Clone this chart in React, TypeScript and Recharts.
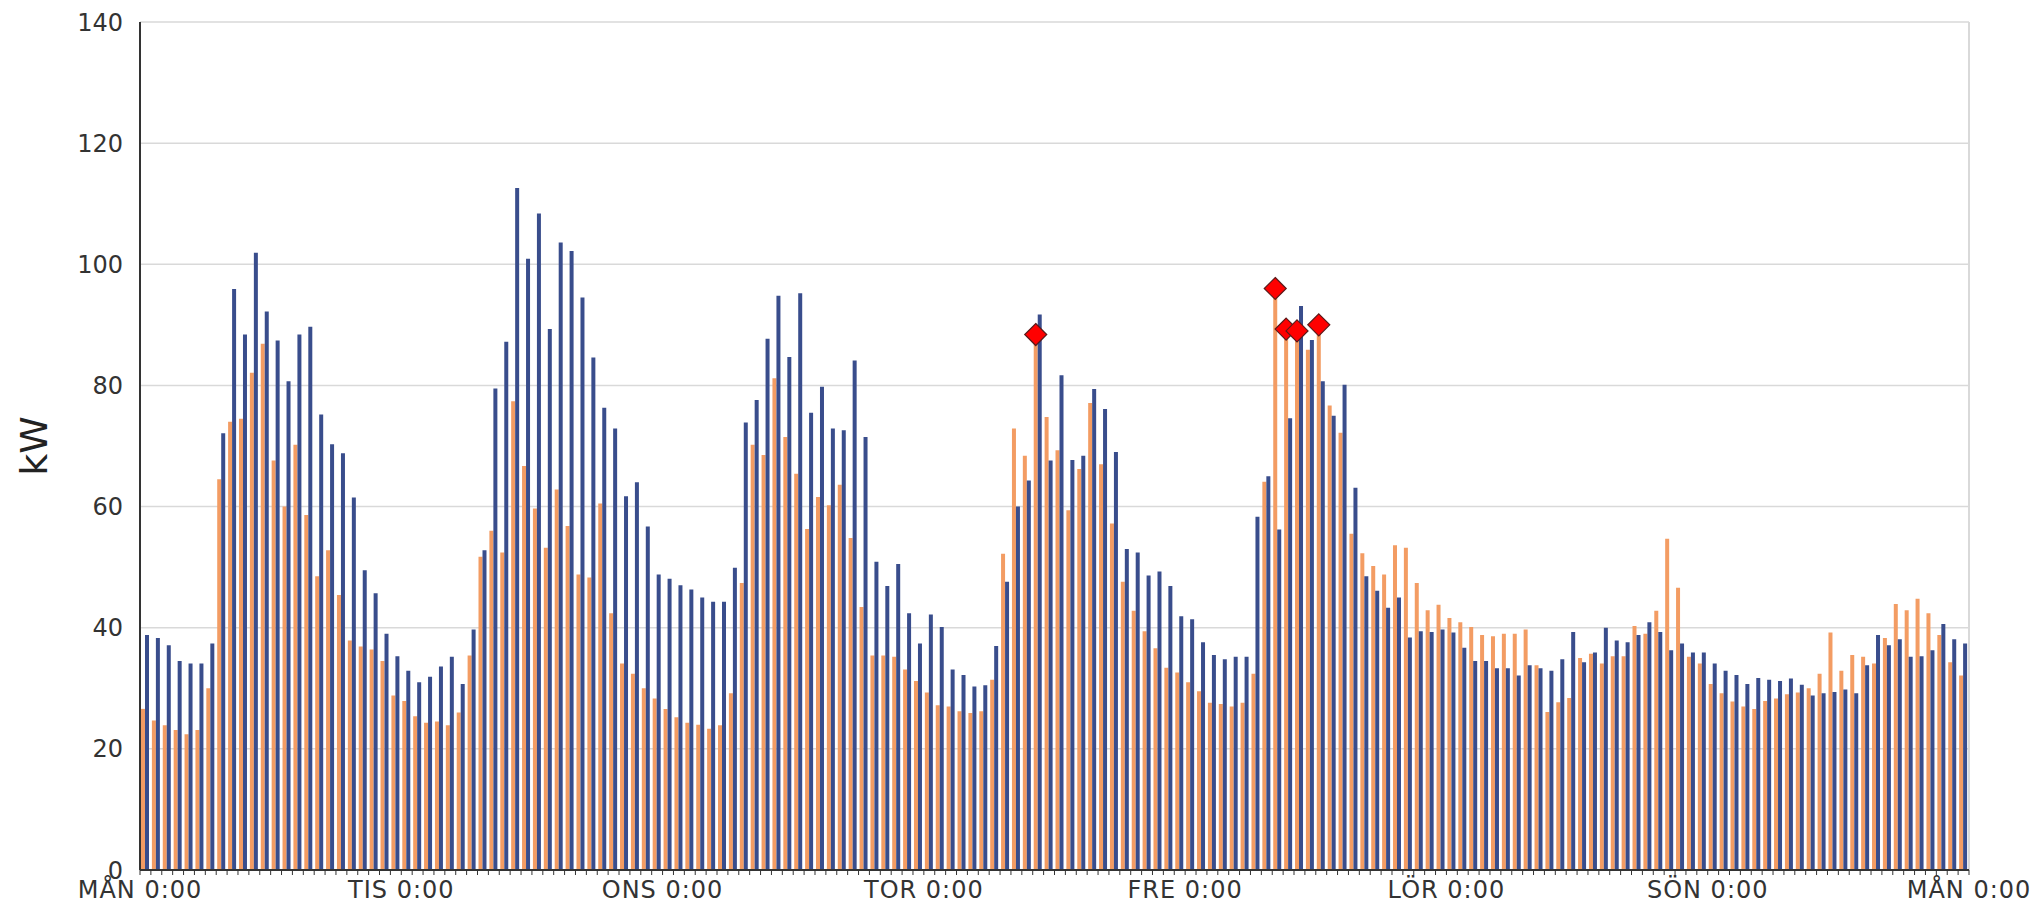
import { ComposedChart, Bar, Line, XAxis, YAxis, CartesianGrid, ReferenceLine } from "recharts";

const W = 2038;
const H = 905;
const M = { top: 22, right: 69, bottom: 0, left: 0 };
const Y_AXIS_W = 140;
const X_AXIS_H = 35;
const FONT = "'DejaVu Sans', Verdana, sans-serif";

const dayLabels = ["MÅN 0:00", "TIS 0:00", "ONS 0:00", "TOR 0:00", "FRE 0:00", "LÖR 0:00", "SÖN 0:00", "MÅN 0:00"];

// blue series, kW per hour
const blueMon = [38.8, 38.3, 37.1, 34.5, 34.1, 34.1, 37.4, 72.1, 95.9, 88.4, 101.9, 92.2, 87.4, 80.7, 88.4, 89.7, 75.2, 70.3, 68.8, 61.5, 49.5, 45.7, 39.0, 35.3];
const blueTis = [32.9, 31.0, 31.9, 33.6, 35.2, 30.7, 39.7, 52.8, 79.5, 87.2, 112.6, 100.9, 108.4, 89.3, 103.6, 102.2, 94.5, 84.6, 76.3, 72.9, 61.7, 64.0, 56.7, 48.8];
const blueOns = [48.1, 47.0, 46.3, 45.0, 44.3, 44.3, 49.9, 73.9, 77.6, 87.7, 94.8, 84.7, 95.2, 75.5, 79.8, 72.9, 72.6, 84.1, 71.5, 50.9, 46.9, 50.5, 42.4, 37.4];
const blueTor = [42.2, 40.1, 33.1, 32.2, 30.3, 30.5, 37.0, 47.6, 60.0, 64.3, 91.7, 67.6, 81.7, 67.7, 68.4, 79.4, 76.1, 69.0, 53.0, 52.4, 48.6, 49.3, 46.9, 41.9];
const blueFre = [41.4, 37.6, 35.5, 34.8, 35.2, 35.2, 58.3, 65.0, 56.2, 74.6, 93.1, 87.5, 80.7, 75.0, 80.1, 63.1, 48.5, 46.1, 43.3, 45.0, 38.4, 39.4, 39.3, 39.7];
const blueLor = [39.2, 36.7, 34.5, 34.5, 33.3, 33.3, 32.1, 33.8, 33.3, 32.9, 34.8, 39.3, 34.3, 35.9, 40.0, 37.9, 37.6, 38.8, 40.9, 39.3, 36.3, 37.4, 35.9, 35.9];
const blueSon = [34.1, 32.9, 32.2, 30.7, 31.7, 31.4, 31.2, 31.6, 30.6, 28.8, 29.2, 29.4, 29.8, 29.2, 33.8, 38.8, 37.1, 38.1, 35.2, 35.3, 36.3, 40.6, 38.1, 37.4];

// orange series, kW per hour
const orangeMon = [26.6, 24.7, 23.9, 23.1, 22.4, 23.1, 30.0, 64.5, 74.0, 74.5, 82.1, 86.9, 67.6, 60.0, 70.2, 58.6, 48.5, 52.8, 45.4, 37.9, 36.9, 36.4, 34.5, 28.8];
const orangeTis = [27.9, 25.4, 24.3, 24.5, 23.9, 26.0, 35.4, 51.7, 56.0, 52.4, 77.4, 66.7, 59.7, 53.2, 62.8, 56.8, 48.8, 48.3, 60.5, 42.4, 34.1, 32.4, 30.0, 28.3];
const orangeOns = [26.6, 25.2, 24.3, 24.0, 23.3, 23.9, 29.2, 47.4, 70.2, 68.5, 81.2, 71.5, 65.4, 56.3, 61.6, 60.2, 63.6, 54.8, 43.4, 35.4, 35.4, 35.2, 33.1, 31.2];
const orangeTor = [29.3, 27.2, 27.0, 26.2, 25.9, 26.2, 31.4, 52.2, 72.9, 68.4, 88.4, 74.8, 69.3, 59.4, 66.2, 77.1, 67.0, 57.2, 47.6, 42.8, 39.4, 36.6, 33.4, 32.6];
const orangeFre = [31.0, 29.5, 27.6, 27.4, 27.0, 27.6, 32.4, 64.1, 96.0, 89.3, 89.0, 85.9, 90.0, 76.7, 72.2, 55.5, 52.3, 50.2, 48.8, 53.6, 53.2, 47.4, 42.9, 43.8];
const orangeLor = [41.6, 40.9, 40.1, 38.8, 38.6, 39.0, 39.0, 39.7, 33.8, 26.1, 27.7, 28.4, 35.0, 35.7, 34.1, 35.3, 35.3, 40.3, 39.0, 42.8, 54.7, 46.6, 35.2, 34.1];
const orangeSon = [30.7, 29.2, 27.8, 27.0, 26.6, 27.9, 28.3, 29.0, 29.3, 30.0, 32.4, 39.2, 32.9, 35.5, 35.2, 34.1, 38.3, 43.9, 42.9, 44.8, 42.4, 38.8, 34.3, 32.1];

// hours (from Monday 0:00) marked with a red diamond on the orange bar
const peakHours = [82, 104, 105, 106, 108];

const yTicks = [0, 20, 40, 60, 80, 100, 120, 140];

const blue = [...blueMon, ...blueTis, ...blueOns, ...blueTor, ...blueFre, ...blueLor, ...blueSon];
const orange = [...orangeMon, ...orangeTis, ...orangeOns, ...orangeTor, ...orangeFre, ...orangeLor, ...orangeSon];
const HOURS = blue.length;
const hourTicks = Array.from({ length: HOURS + 1 }, (_, i) => i);

const data = blue.map((b, h) => ({
  hour: h + 0.5,
  blue: b,
  orange: orange[h],
  peak: peakHours.includes(h) ? orange[h] : null,
}));

// bar geometry, used to put the diamond over the orange bar
const BAR = 4;
const BAND = (W - M.left - M.right - Y_AXIS_W) / HOURS;
const PAIR_OFFSET = Math.floor((BAND - 2 * BAR) / 2);
const ORANGE_SHIFT = -BAND / 2 + PAIR_OFFSET + BAR / 2;

function XTick(props: any) {
  const { x, y, payload } = props;
  const h = payload.value;
  if (h % 24 !== 0) return <g />;
  return (
    <text x={x} y={y} dy={19} textAnchor="middle" fill="#333" fontSize={24} fontFamily={FONT} letterSpacing={1}>
      {dayLabels[h / 24]}
    </text>
  );
}

function Diamond(props: any) {
  const { cx, cy, payload, index } = props;
  if (payload == null || payload.peak == null || cy == null) return <g key={`d-${index}`} />;
  const x = cx + ORANGE_SHIFT;
  const r = 11;
  return (
    <polygon
      key={`d-${index}`}
      points={`${x},${cy - r} ${x + r},${cy} ${x},${cy + r} ${x - r},${cy}`}
      fill="#ff0000"
      stroke="#5a1a1a"
      strokeWidth={1.2}
    />
  );
}

export default function App() {
  return (
    <div style={{ position: "absolute", left: 0, top: 0, width: W, height: H, background: "#fff" }}>
      <ComposedChart width={W} height={H} data={data} margin={M} barGap={0}>
        <CartesianGrid vertical={false} stroke="#d9d9d9" strokeWidth={1.5} />
        <XAxis
          dataKey="hour"
          type="number"
          domain={[0, HOURS]}
          ticks={hourTicks}
          interval={0}
          height={X_AXIS_H}
          tick={<XTick />}
          tickSize={5}
          tickMargin={4}
          tickLine={{ stroke: "#333" }}
          axisLine={{ stroke: "#333", strokeWidth: 2 }}
        />
        <YAxis
          domain={[0, 140]}
          ticks={yTicks}
          width={Y_AXIS_W}
          tickLine={false}
          tickSize={0}
          tickMargin={17}
          tick={{ fill: "#333", fontSize: 24, fontFamily: FONT }}
          axisLine={{ stroke: "#333", strokeWidth: 2 }}
          label={{
            value: "kW",
            angle: -90,
            position: "insideLeft",
            offset: 34,
            textAnchor: "middle",
            fill: "#222",
            fontSize: 38,
            fontFamily: FONT,
          }}
        />
        <ReferenceLine x={HOURS} stroke="#d9d9d9" strokeWidth={2} />
        <Bar dataKey="orange" fill="#f39c63" barSize={BAR} isAnimationActive={false} />
        <Bar dataKey="blue" fill="#394d8c" barSize={BAR} isAnimationActive={false} />
        <Line
          dataKey="peak"
          stroke="none"
          dot={Diamond}
          activeDot={false}
          connectNulls={false}
          isAnimationActive={false}
        />
      </ComposedChart>
    </div>
  );
}
